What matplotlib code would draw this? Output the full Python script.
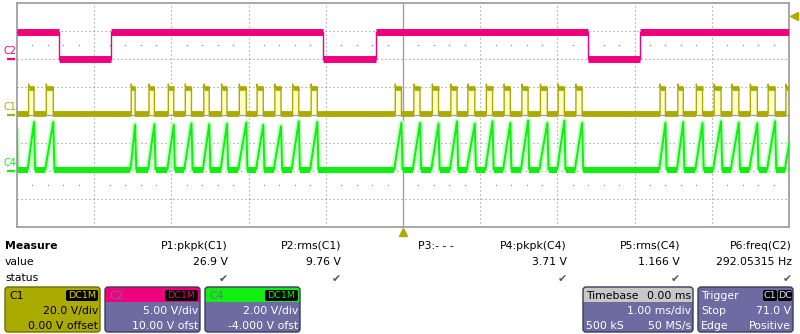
import numpy as np
import matplotlib
matplotlib.use('Agg')
import matplotlib.pyplot as plt
from matplotlib.patches import FancyBboxPatch, Rectangle

plt.rcParams['font.family'] = 'DejaVu Sans'

# colours of the channels and panels
c1_col = '#AAAA00'
c2_col = '#F0007C'
c4_col = '#11EE11'
panel = '#6E6AA2'
grid_col = '#8C8C8C'

# vertical setup of each channel (V/div, offset V)
c1_scale, c1_ofs = 20.0, 0.0
c2_scale, c2_ofs = 5.0, 10.0
c4_scale, c4_ofs = 2.0, -4.0

# C2: falling / rising edges in ms
c2_fall = [-4.46, -1.04, 2.40]
c2_rise = [-3.78, -0.35, 3.07]
c2_high = 4.8
c2_low = 0.0

# C1 pulses: rising edge (ms) and width (ms)
c1_rise = [-4.85, -4.62,
           -3.52, -3.29, -3.04, -2.82, -2.58, -2.35, -2.12, -1.89, -1.66, -1.43, -1.19,
           -0.10, 0.14, 0.38, 0.62, 0.84, 1.08, 1.31, 1.54, 1.78, 2.01, 2.24,
           3.33, 3.56, 3.80, 4.03, 4.26, 4.50, 4.73, 4.96]
c1_width = [0.07, 0.09,
            0.05, 0.07, 0.07, 0.08, 0.07, 0.07, 0.09, 0.08, 0.08, 0.08, 0.08,
            0.08, 0.08, 0.08, 0.08, 0.09, 0.08, 0.08, 0.08, 0.09, 0.08, 0.08,
            0.07, 0.07, 0.08, 0.09, 0.09, 0.09, 0.09, 0.09]
c1_high = 19.6
c1_low = 0.4

# C4 ramp peaks (V), one per C1 pulse
c4_peak = [3.5, 3.5,
           3.3, 3.35, 3.3, 3.4, 3.35, 3.38, 3.45, 3.3, 3.2, 3.55, 3.5,
           3.45, 3.43, 3.38, 3.55, 3.38, 3.55, 3.43, 3.6, 3.43, 3.6, 3.43,
           3.45, 3.5, 3.43, 3.55, 3.45, 3.42, 3.55, 3.45]
c4_low = 0.1
c4_start = 2.9

trig_level = 71.0

# measurement table
m_names = ['P1:pkpk(C1)', 'P2:rms(C1)', 'P3:- - -', 'P4:pkpk(C4)', 'P5:rms(C4)', 'P6:freq(C2)']
m_values = ['26.9 V', '9.76 V', '', '3.71 V', '1.166 V', '292.05315 Hz']
m_status = [True, True, False, True, True, True]


def to_div(v, scale, ofs):
    return (np.asarray(v, dtype=float) + ofs) / scale


fig = plt.figure(figsize=(8, 3.34), dpi=100)
fig.patch.set_facecolor('white')

# overlay in pixel coordinates for the panels below the grid
ax0 = fig.add_axes([0, 0, 1, 1])
ax0.set_xlim(0, 800)
ax0.set_ylim(334, 0)
ax0.axis('off')

ax = fig.add_axes([17 / 800, 1 - 227 / 334, 772 / 800, 224 / 334])
ax.set_xlim(-5, 5)
ax.set_ylim(-4, 4)
ax.set_xticks([])
ax.set_yticks([])
for s in ax.spines.values():
    s.set_color('#A0A0A0')
    s.set_linewidth(1.3)

# graticule
for k in range(-3, 4):
    if k == 0:
        ax.axhline(k, color='#A0A0A0', lw=1.0, zorder=1)
    else:
        ax.axhline(k, color=grid_col, lw=0.8, ls=(0, (1, 2.6)), zorder=1)
for k in range(-4, 5):
    if k == 0:
        ax.axvline(k, color='#A0A0A0', lw=1.0, zorder=1)
    else:
        ax.axvline(k, color=grid_col, lw=0.8, ls=(0, (1, 2.6)), zorder=1)
minor_x = [i / 5 for i in range(-24, 25) if i % 5 != 0]
for yy in (-2.5, 2.5):
    ax.plot(minor_x, [yy] * len(minor_x), ls='none', marker='s', ms=0.9,
            color=grid_col, mew=0, zorder=1)

# ---- C2 ----
t2 = [-5.0]
v2 = [c2_high]
for f, r in zip(c2_fall, c2_rise):
    t2 += [f, f, r, r]
    v2 += [c2_high, c2_low, c2_low, c2_high]
t2.append(5.0)
v2.append(c2_high)
ax.plot(t2, to_div(v2, c2_scale, c2_ofs), color=c2_col, lw=1.0, zorder=3)
hi_starts = [-5.0] + c2_rise
hi_ends = c2_fall + [5.0]
ax.hlines(to_div([c2_high] * len(hi_starts), c2_scale, c2_ofs), hi_starts, hi_ends,
          color=c2_col, lw=5, capstyle='butt', zorder=3)
ax.hlines(to_div([c2_low] * len(c2_fall), c2_scale, c2_ofs), c2_fall, c2_rise,
          color=c2_col, lw=5, capstyle='butt', zorder=3)

# ---- C1 ----
t1 = [-5.0]
v1 = [c1_low]
for r, w in zip(c1_rise, c1_width):
    t1 += [r, r, r + 0.006, r + w, r + w]
    v1 += [c1_low, c1_high + 2.5, c1_high, c1_high, c1_low]
    ax.fill_between([r, r + w], to_div(c1_low, c1_scale, c1_ofs),
                    to_div(c1_high, c1_scale, c1_ofs), color='#FFFFC8', lw=0, zorder=2)
t1.append(5.0)
v1.append(c1_low)
ax.plot(t1, to_div(v1, c1_scale, c1_ofs), color=c1_col, lw=1.0, zorder=4)
lo_starts = [-5.0] + [r + w for r, w in zip(c1_rise, c1_width)]
lo_ends = c1_rise + [5.0]
ax.hlines(to_div([c1_low] * len(lo_starts), c1_scale, c1_ofs), lo_starts, lo_ends,
          color=c1_col, lw=4.2, capstyle='butt', zorder=4)
ax.hlines(to_div([c1_high] * len(c1_rise), c1_scale, c1_ofs), c1_rise,
          [r + w for r, w in zip(c1_rise, c1_width)],
          color=c1_col, lw=3.4, capstyle='butt', zorder=4)

# ---- C4 ----
t4 = [-5.0, -4.995]
v4 = [c4_start, c4_low]
for r, w, p in zip(c1_rise, c1_width, c4_peak):
    t4 += [r - 0.012, r, r + w, r + w + 0.015]
    v4 += [c4_low, c4_low + 0.5, p, c4_low]
t4.append(5.0)
v4.append(c4_low)
d4 = to_div(v4, c4_scale, c4_ofs)
ax.plot(t4, d4, color='#C8FFC8', lw=4, zorder=2)
ax.plot(t4, d4, color=c4_col, lw=1.4, zorder=3)
b_starts = [-4.995] + [r + w + 0.015 for r, w in zip(c1_rise, c1_width)]
b_ends = [r - 0.012 for r in c1_rise] + [5.0]
ax.hlines(to_div([c4_low] * len(b_starts), c4_scale, c4_ofs), b_starts, b_ends,
          color=c4_col, lw=4.3, capstyle='butt', zorder=3)

# channel ground markers and labels on the left
for name, col, sc, of in [('C2', c2_col, c2_scale, c2_ofs),
                          ('C1', c1_col, c1_scale, c1_ofs),
                          ('C4', c4_col, c4_scale, c4_ofs)]:
    g = to_div(0.0, sc, of)
    ax.plot([-5.13, -5.03], [g, g], color=col, lw=1.6, clip_on=False, solid_capstyle='butt')
    ax.text(-5.09, g + 0.3, name, color=col, fontsize=7, ha='center', va='center',
            clip_on=False)

# trigger markers
ax.plot([5.07], [to_div(trig_level, c1_scale, c1_ofs)], marker='<', ms=6,
        color=c1_col, clip_on=False, zorder=5)
ax.plot([0.0], [-4.17], marker='^', ms=6, color=c1_col, clip_on=False, zorder=5)

# ---- measurement rows ----
fs = 7.8
ax0.text(5, 246, 'Measure', fontsize=fs, weight='bold', va='center')
ax0.text(5, 262, 'value', fontsize=fs, va='center')
ax0.text(5, 278, 'status', fontsize=fs, va='center')
for i, (n, v, ok) in enumerate(zip(m_names, m_values, m_status)):
    xr = 228 + 113 * i
    if i == 5:
        xr = 792
    ax0.text(xr, 246, n, fontsize=fs, ha='right', va='center')
    ax0.text(xr, 262, v, fontsize=fs, ha='right', va='center')
    if ok:
        ax0.text(xr, 279, '\u2714', fontsize=fs, ha='right', va='center', color='#555555')


def panel_box(x0, x1, head_col, body_col, edge):
    y0, y1, ym = 287, 332, 302
    ax0.add_patch(FancyBboxPatch((x0, y0), x1 - x0, y1 - y0,
                                 boxstyle='round,pad=0,rounding_size=3', fc=head_col, ec='none'))
    ax0.add_patch(FancyBboxPatch((x0, ym), x1 - x0, y1 - ym,
                                 boxstyle='round,pad=0,rounding_size=3', fc=body_col, ec='none'))
    ax0.add_patch(Rectangle((x0, ym), x1 - x0, 6, fc=body_col, ec='none'))
    ax0.add_patch(FancyBboxPatch((x0, y0), x1 - x0, y1 - y0,
                                 boxstyle='round,pad=0,rounding_size=3', fc='none', ec=edge, lw=1))


def badge(x0, x1, text, col):
    ax0.add_patch(FancyBboxPatch((x0, 290), x1 - x0, 11,
                                 boxstyle='round,pad=0,rounding_size=2', fc='black', ec='none'))
    ax0.text((x0 + x1) / 2, 296, text, fontsize=6.8, color=col, ha='center', va='center')


# channel panels
panel_box(5, 100, c1_col, c1_col, '#6E6E00')
ax0.text(9, 296, 'C1', fontsize=fs, va='center', color='black')
badge(66, 98, 'DC1M', '#D8D800')
ax0.text(98, 311, '20.0 V/div', fontsize=fs, ha='right', va='center', color='black')
ax0.text(98, 326, '0.00 V offset', fontsize=fs, ha='right', va='center', color='black')

panel_box(105, 200, c2_col, panel, '#3C3A5A')
ax0.text(109, 296, 'C2', fontsize=fs, va='center', color=panel)
badge(165, 198, 'DC1M', c2_col)
ax0.text(198, 311, '5.00 V/div', fontsize=fs, ha='right', va='center', color='white')
ax0.text(198, 326, '10.00 V ofst', fontsize=fs, ha='right', va='center', color='white')

panel_box(205, 300, c4_col, panel, '#3C3A5A')
ax0.text(209, 296, 'C4', fontsize=fs, va='center', color=panel)
badge(265, 298, 'DC1M', c4_col)
ax0.text(298, 311, '2.00 V/div', fontsize=fs, ha='right', va='center', color='white')
ax0.text(298, 326, '-4.000 V ofst', fontsize=fs, ha='right', va='center', color='white')

# timebase panel
panel_box(583, 693, '#C8C8C8', panel, '#3C3A5A')
ax0.text(586, 296, 'Timebase', fontsize=fs, va='center', color='black')
ax0.text(691, 296, '0.00 ms', fontsize=fs, ha='right', va='center', color='black')
ax0.text(691, 311, '1.00 ms/div', fontsize=fs, ha='right', va='center', color='white')
ax0.text(586, 326, '500 kS', fontsize=fs, va='center', color='white')
ax0.text(691, 326, '50 MS/s', fontsize=fs, ha='right', va='center', color='white')

# trigger panel
panel_box(698, 793, panel, panel, '#3C3A5A')
ax0.text(701, 296, 'Trigger', fontsize=fs, va='center', color='white')
badge(763, 777, 'C1', '#E0E0FF')
badge(778, 792, 'DC', '#E0E0FF')
ax0.text(791, 311, '71.0 V', fontsize=fs, ha='right', va='center', color='white')
ax0.text(701, 311, 'Stop', fontsize=fs, va='center', color='white')
ax0.text(701, 326, 'Edge', fontsize=fs, va='center', color='white')
ax0.text(791, 326, 'Positive', fontsize=fs, ha='right', va='center', color='white')

fig.savefig('out.png', dpi=100)
